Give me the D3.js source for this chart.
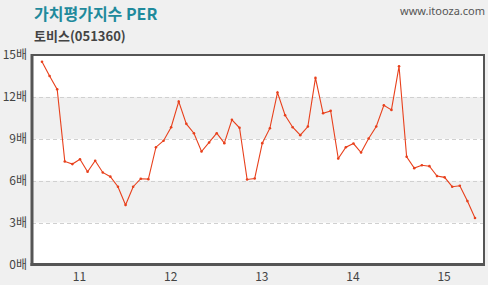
<!DOCTYPE html>
<html><head><meta charset="utf-8">
<script src="https://cdn.jsdelivr.net/npm/d3@7"></script>
<style>
html,body{margin:0;padding:0;background:#f0f0f0;}
svg{display:block;}
</style></head>
<body><svg id="c" width="488" height="285"></svg>
<script>
const title = "가치평가지수 PER";
const subtitle = "토비스(051360)";
const source = "www.itooza.com";
// monthly PER values, Aug 2010 .. May 2015
const startYear = 2010, startMonth = 8;
const perValues = [14.52,13.5,12.54,7.38,7.19,7.54,6.64,7.43,6.59,6.29,5.57,4.26,5.57,6.14,
  6.11,8.4,8.86,9.83,11.66,10.07,9.4,8.09,8.74,9.4,8.69,10.36,9.79,6.09,6.16,8.69,
  9.76,12.31,10.69,9.83,9.26,9.88,13.36,10.83,11.0,7.59,8.4,8.66,8.02,9.02,9.88,
  11.4,11.07,14.19,7.71,6.9,7.11,7.04,6.33,6.24,5.57,5.64,4.54,3.33];
const yTicks = [0,3,6,9,12,15];
const yearLabels = ["11","12","13","14","15"];

const svg = d3.select("#c");
const L=32, R=484, T=55, B=264.5;
const x = d3.scaleLinear().domain([0, perValues.length-1]).range([42,475]);
const y = d3.scaleLinear().domain([0,15]).range([B,T]);

// bands
const bands = [[12,9],[6,3]];
svg.append("rect").attr("x",L).attr("y",T).attr("width",R-L).attr("height",B-T).attr("fill","#fff");
svg.selectAll(".band").data(bands).enter().append("rect")
  .attr("x",L).attr("width",R-L).attr("y",d=>y(d[0])).attr("height",d=>y(d[1])-y(d[0])).attr("fill","#f0f0f0");
// grid
svg.selectAll(".grid").data(yTicks.filter(v=>v>0&&v<15)).enter().append("line")
  .attr("x1",L).attr("x2",R).attr("y1",d=>Math.round(y(d))+0.5).attr("y2",d=>Math.round(y(d))+0.5)
  .attr("stroke","#d0d0d0").attr("stroke-dasharray","4,3");

// y labels
const yAxis = d3.axisLeft(y).tickValues(yTicks).tickSize(0).tickPadding(4).tickFormat(d=>d+"배");
const ga = svg.append("g").attr("transform",`translate(${L-1},0)`).call(yAxis);
ga.select(".domain").remove();
ga.selectAll("text").attr("font-family","'Noto Sans CJK KR',sans-serif").attr("font-size",12).attr("fill","#444");

// x labels: January positions
const janIdx = yearLabels.map((s,i)=> (12 - startMonth + 1) + 12*i);
const xAxis = d3.axisBottom(x).tickValues(janIdx).tickSize(0).tickPadding(8).tickFormat((d,i)=>yearLabels[i]);
const gx = svg.append("g").attr("transform",`translate(-1,${B})`).call(xAxis);
gx.select(".domain").remove();
gx.selectAll("text").attr("font-family","'Noto Sans CJK KR',sans-serif").attr("font-size",12).attr("fill","#444");

// frame
svg.append("rect").attr("x",L).attr("y",T).attr("width",R-L).attr("height",B-T)
  .attr("fill","none").attr("stroke","#555").attr("stroke-width",2);
svg.append("line").attr("x1",L).attr("x2",L).attr("y1",T-1).attr("y2",B+1.5).attr("stroke","#555").attr("stroke-width",3);
svg.append("line").attr("x1",L-1.5).attr("x2",R+1).attr("y1",B).attr("y2",B).attr("stroke","#555").attr("stroke-width",3);

// line
const line = d3.line().x((d,i)=>x(i)).y(d=>y(d));
svg.append("path").datum(perValues).attr("d",line).attr("fill","none").attr("stroke","#e8401c").attr("stroke-width",1.1);
svg.selectAll(".pt").data(perValues).enter().append("circle")
  .attr("cx",(d,i)=>x(i)).attr("cy",d=>y(d)).attr("r",1.3).attr("fill","#e8401c");

// titles
svg.append("text").attr("x",34).attr("y",19.5).text(title)
  .attr("font-family","'Noto Sans CJK KR',sans-serif").attr("font-weight","bold").attr("font-size",16).attr("fill","#1f8a9c");
svg.append("text").attr("x",34).attr("y",40.5).text(subtitle)
  .attr("font-family","'Noto Sans CJK KR',sans-serif").attr("font-weight","bold").attr("font-size",13).attr("fill","#444");
svg.append("text").attr("x",485).attr("y",15).attr("text-anchor","end").text(source)
  .attr("font-family","'Noto Sans',sans-serif").attr("font-size",11).attr("fill","#555");
</script></body></html>
